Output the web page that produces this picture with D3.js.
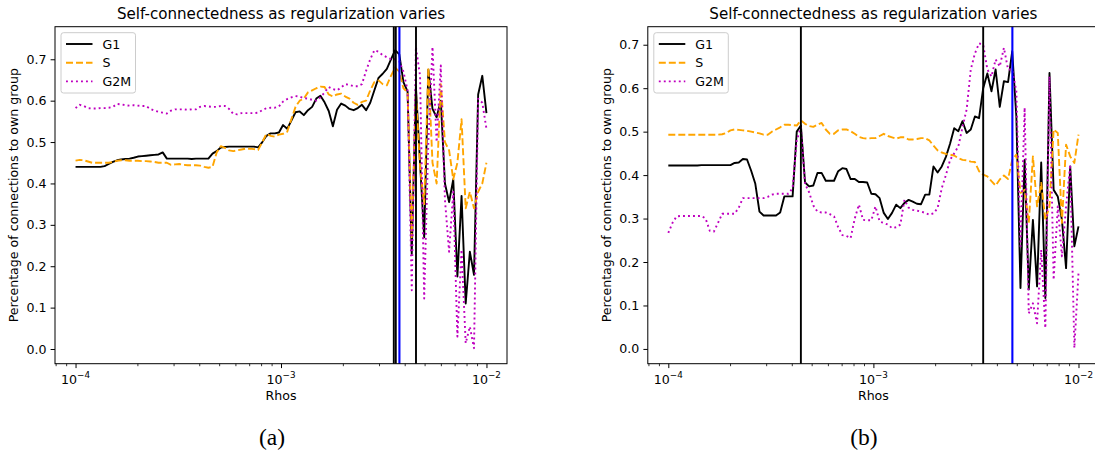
<!DOCTYPE html>
<html><head><meta charset="utf-8">
<script src="https://cdn.jsdelivr.net/npm/d3@7"></script>
<style>body{margin:0;background:#fff;} svg{display:block;font-family:"DejaVu Sans",sans-serif;}</style>
</head><body><svg id="c" width="1095" height="452"></svg>
<script>
// ---------- data ----------
const seriesNames = ["G1", "S", "G2M"];
const rhoExpMin = -4, rhoExpMax = -2, nRhos = 100;
const rhos = d3.range(nRhos).map(i => Math.pow(10, rhoExpMin + (rhoExpMax - rhoExpMin) * i / (nRhos - 1)));

const g1A = [0.44,0.44,0.44,0.44,0.44,0.44,0.44,0.442,0.447,0.452,
0.456,0.458,0.459,0.46,0.462,0.465,0.466,0.467,0.468,0.469,
0.47,0.475,0.46,0.46,0.46,0.46,0.46,0.46,0.459,0.46,
0.46,0.46,0.46,0.472,0.478,0.487,0.488,0.489,0.489,0.489,
0.489,0.489,0.489,0.489,0.487,0.50,0.515,0.521,0.521,0.523,
0.541,0.532,0.552,0.572,0.574,0.565,0.577,0.585,0.605,0.612,
0.596,0.575,0.538,0.578,0.593,0.588,0.58,0.577,0.582,0.59,
0.577,0.595,0.625,0.655,0.665,0.677,0.70,0.722,0.712,0.645,
0.622,0.23,0.635,0.45,0.27,0.675,0.58,0.56,0.60,0.40,
0.355,0.41,0.175,0.37,0.11,0.235,0.179,0.615,0.66,0.57];
const sA = [0.455,0.457,0.456,0.453,0.45,0.45,0.45,0.45,0.45,0.452,
0.455,0.456,0.456,0.455,0.455,0.455,0.454,0.454,0.453,0.452,
0.45,0.45,0.45,0.445,0.446,0.447,0.445,0.444,0.444,0.444,
0.443,0.44,0.438,0.44,0.475,0.49,0.486,0.48,0.478,0.48,
0.482,0.484,0.484,0.483,0.481,0.50,0.52,0.515,0.513,0.518,
0.52,0.525,0.555,0.585,0.60,0.605,0.62,0.625,0.63,0.634,
0.633,0.615,0.61,0.615,0.617,0.61,0.605,0.595,0.59,0.597,
0.60,0.625,0.645,0.649,0.64,0.637,0.66,0.68,0.67,0.63,
0.62,0.27,0.62,0.44,0.35,0.68,0.45,0.40,0.64,0.50,
0.48,0.41,0.45,0.555,0.34,0.38,0.34,0.38,0.40,0.45];
const g2mA = [0.582,0.59,0.587,0.582,0.581,0.581,0.582,0.582,0.583,0.585,
0.592,0.591,0.589,0.588,0.589,0.588,0.587,0.587,0.58,0.576,
0.573,0.571,0.569,0.576,0.579,0.579,0.579,0.578,0.579,0.579,
0.585,0.587,0.586,0.585,0.585,0.587,0.587,0.58,0.568,0.567,
0.57,0.57,0.57,0.57,0.571,0.577,0.582,0.583,0.583,0.586,
0.598,0.604,0.608,0.611,0.61,0.606,0.605,0.602,0.60,0.608,
0.62,0.633,0.628,0.625,0.632,0.64,0.638,0.635,0.635,0.64,
0.672,0.70,0.722,0.718,0.71,0.705,0.70,0.70,0.695,0.67,
0.625,0.142,0.73,0.66,0.122,0.50,0.73,0.50,0.685,0.36,
0.235,0.38,0.03,0.24,0.014,0.054,0.002,0.605,0.595,0.532];

const g1B = [0.422,0.422,0.422,0.422,0.422,0.422,0.422,0.422,0.423,0.423,
0.423,0.423,0.423,0.423,0.423,0.423,0.428,0.429,0.437,0.436,
0.41,0.38,0.316,0.307,0.307,0.307,0.307,0.314,0.351,0.351,
0.351,0.50,0.514,0.383,0.374,0.376,0.405,0.405,0.387,0.387,
0.387,0.409,0.416,0.414,0.391,0.391,0.384,0.384,0.383,0.357,
0.356,0.347,0.313,0.299,0.313,0.332,0.324,0.336,0.343,0.339,
0.334,0.333,0.355,0.355,0.42,0.406,0.42,0.442,0.472,0.508,
0.501,0.524,0.497,0.505,0.535,0.531,0.60,0.634,0.593,0.643,
0.557,0.616,0.614,0.685,0.535,0.14,0.435,0.137,0.297,0.144,
0.429,0.117,0.635,0.366,0.351,0.297,0.186,0.42,0.236,0.282];
const sB = [0.493,0.493,0.493,0.493,0.493,0.493,0.493,0.493,0.493,0.493,
0.493,0.493,0.493,0.494,0.497,0.503,0.505,0.504,0.503,0.502,
0.50,0.498,0.496,0.493,0.493,0.50,0.505,0.51,0.516,0.516,
0.515,0.514,0.526,0.518,0.513,0.511,0.516,0.52,0.505,0.495,
0.495,0.503,0.505,0.505,0.501,0.495,0.488,0.485,0.484,0.485,
0.485,0.49,0.495,0.49,0.487,0.484,0.487,0.487,0.482,0.482,
0.483,0.485,0.485,0.48,0.468,0.457,0.452,0.449,0.447,0.445,
0.439,0.435,0.434,0.431,0.43,0.409,0.401,0.397,0.386,0.376,
0.39,0.399,0.391,0.435,0.447,0.359,0.366,0.29,0.443,0.328,
0.382,0.297,0.328,0.505,0.497,0.29,0.47,0.443,0.428,0.493];
const g2mB = [0.267,0.29,0.305,0.306,0.306,0.306,0.306,0.306,0.306,0.30,
0.272,0.27,0.29,0.311,0.311,0.311,0.311,0.325,0.347,0.347,
0.347,0.347,0.347,0.347,0.35,0.355,0.357,0.357,0.357,0.357,
0.37,0.48,0.51,0.38,0.36,0.33,0.316,0.314,0.314,0.31,
0.305,0.28,0.262,0.26,0.255,0.30,0.332,0.297,0.296,0.296,
0.328,0.293,0.29,0.286,0.278,0.28,0.286,0.343,0.325,0.32,
0.318,0.316,0.313,0.309,0.312,0.324,0.37,0.40,0.435,0.45,
0.466,0.51,0.551,0.643,0.68,0.703,0.70,0.643,0.627,0.666,
0.65,0.693,0.643,0.643,0.593,0.236,0.555,0.082,0.105,0.059,
0.228,0.048,0.627,0.159,0.328,0.213,0.328,0.424,0.002,0.174];

const vlineRhosA = [0.00354, 0.00362, 0.00377, 0.00454];
const vlineColorsA = ["#000000", "#000000", "#0000ff", "#000000"];
const vlineRhosB = [0.000443, 0.00343, 0.00476];
const vlineColorsB = ["#000000", "#000000", "#0000ff"];

const yTickValues = [0, 0.1, 0.2, 0.3, 0.4, 0.5, 0.6, 0.7];
const xMajorExps = [-4, -3, -2];
const titleText = "Self-connectedness as regularization varies";
const xLabelText = "Rhos";
const yLabelText = "Percentage of connections to own group";
const captions = ["(a)", "(b)"];

// ---------- style ----------
const seriesColors = ["#000000", "#ffa500", "#bf00bf"];
const seriesDash = [null, "7,3", "1.9,3.1"];
const LW = 1.9, FS = 12.6;

const svg = d3.select("#c");

function drawPanel(p) {
  const g = svg.append("g");
  const x = d3.scaleLog().domain([Math.pow(10, -4.1), Math.pow(10, -1.9)]).range([p.left, p.right]);
  const y = d3.scaleLinear().domain(p.yDomain).range([p.bottom, p.top]);

  const clipId = "clip" + p.id;
  svg.append("clipPath").attr("id", clipId).append("rect")
    .attr("x", p.left).attr("y", p.top).attr("width", p.right - p.left).attr("height", p.bottom - p.top);

  // series
  const line = d3.line().x((d, i) => x(rhos[i])).y(d => y(d));
  const lg = g.append("g").attr("clip-path", `url(#${clipId})`);
  p.series.forEach((vals, k) => {
    lg.append("path").datum(vals).attr("d", line)
      .attr("fill", "none").attr("stroke", seriesColors[k]).attr("stroke-width", LW)
      .attr("stroke-dasharray", seriesDash[k]).attr("stroke-linejoin", "round");
  });
  // vertical lines
  p.vRhos.forEach((r, k) => {
    g.append("line").attr("x1", x(r)).attr("x2", x(r)).attr("y1", p.top).attr("y2", p.bottom)
      .attr("stroke", p.vColors[k]).attr("stroke-width", p.vColors[k] === "#0000ff" ? 2.1 : LW);
  });

  // x axis major
  const xMaj = xMajorExps.map(e => Math.pow(10, e));
  const ax = g.append("g").attr("transform", `translate(0,${p.bottom})`)
    .call(d3.axisBottom(x).tickValues(xMaj).tickSize(4.4).tickFormat(""));
  ax.select(".domain").remove();
  ax.selectAll("line").attr("stroke-width", 1);
  xMajorExps.forEach(e => {
    const t = g.append("text").attr("x", x(Math.pow(10, e))).attr("y", p.bottom + 19.8)
      .attr("text-anchor", "middle").attr("font-size", FS).attr("fill", "#000");
    t.append("tspan").text("10");
    t.append("tspan").attr("dy", -6).attr("font-size", 8.8).text("\u2212" + (-e));
  });
  // minor ticks
  const minor = [];
  for (let e = -5; e <= -2; e++) for (let m = 2; m <= 9; m++) {
    const v = m * Math.pow(10, e);
    if (v > x.domain()[0] && v < x.domain()[1]) minor.push(v);
  }
  const axm = g.append("g").attr("transform", `translate(0,${p.bottom})`)
    .call(d3.axisBottom(x).tickValues(minor).tickSize(2.5).tickFormat(""));
  axm.select(".domain").remove();
  axm.selectAll("line").attr("stroke-width", 0.8);

  // y axis
  const ay = g.append("g").attr("transform", `translate(${p.left},0)`)
    .call(d3.axisLeft(y).tickValues(yTickValues).tickSize(4.4).tickPadding(4.2).tickFormat(d3.format(".1f")));
  ay.select(".domain").remove();
  ay.selectAll("line").attr("stroke-width", 1);
  ay.selectAll("text").attr("font-size", FS).attr("font-family", "DejaVu Sans").attr("fill", "#000");

  // frame
  g.append("rect").attr("x", p.left).attr("y", p.top).attr("width", p.right - p.left).attr("height", p.bottom - p.top)
    .attr("fill", "none").attr("stroke", "#000").attr("stroke-width", 1);

  // labels
  const cx = (p.left + p.right) / 2;
  g.append("text").attr("x", cx).attr("y", 19.3).attr("text-anchor", "middle").attr("font-size", 15.1).text(titleText);
  g.append("text").attr("x", cx).attr("y", 400).attr("text-anchor", "middle").attr("font-size", FS).text(xLabelText);
  g.append("text").attr("transform", `translate(${p.left - 37},${(p.top + p.bottom) / 2}) rotate(-90)`)
    .attr("text-anchor", "middle").attr("font-size", FS).text(yLabelText);

  // legend
  const L = g.append("g");
  L.append("rect").attr("x", p.left + 6).attr("y", 32.7).attr("width", 74.5).attr("height", 60.3)
    .attr("rx", 2.5).attr("fill", "#fff").attr("fill-opacity", 0.8).attr("stroke", "#cccccc").attr("stroke-width", 1);
  seriesNames.forEach((nm, k) => {
    const yy = 44 + 18.7 * k;
    L.append("line").attr("x1", p.left + 11).attr("x2", p.left + 37.5).attr("y1", yy).attr("y2", yy)
      .attr("stroke", seriesColors[k]).attr("stroke-width", LW).attr("stroke-dasharray", seriesDash[k]);
    L.append("text").attr("x", p.left + 47.5).attr("y", yy + 4.6).attr("font-size", FS).text(nm);
  });

  // caption
  svg.append("text").attr("x", p.capX).attr("y", 445).attr("text-anchor", "middle")
    .attr("font-family", "Liberation Serif, serif").attr("font-size", 23.5).text(p.caption);
}

drawPanel({id: "a", left: 55, right: 507, top: 26.7, bottom: 363.7, yDomain: [-0.0355, 0.7787],
  series: [g1A, sA, g2mA], vRhos: vlineRhosA, vColors: vlineColorsA, capX: 272, caption: captions[0]});
drawPanel({id: "b", left: 647.8, right: 1099, top: 26.7, bottom: 363.7, yDomain: [-0.034, 0.7415],
  series: [g1B, sB, g2mB], vRhos: vlineRhosB, vColors: vlineColorsB, capX: 864, caption: captions[1]});
</script></body></html>
